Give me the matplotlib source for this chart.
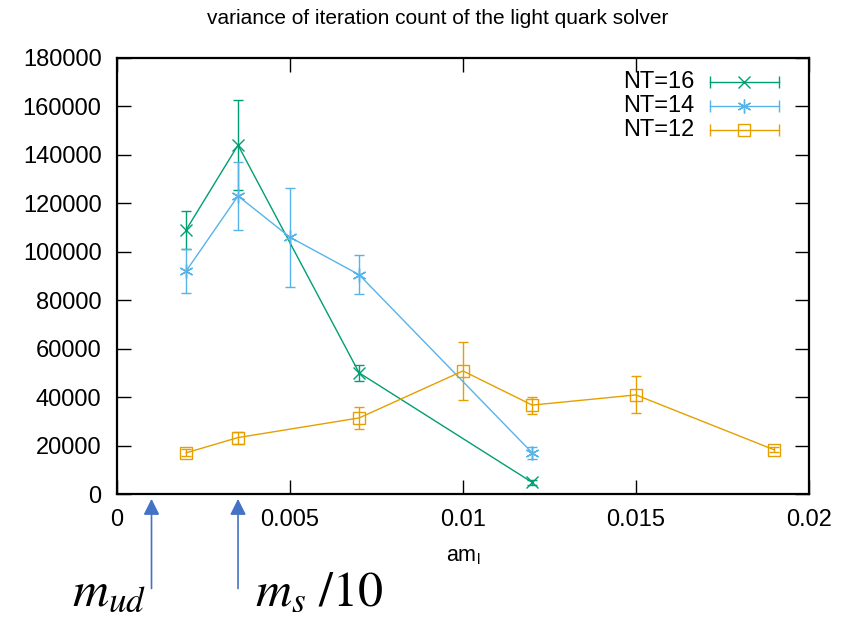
import matplotlib
matplotlib.use("Agg")
from matplotlib import pyplot as plt

plt.rcParams['font.family'] = ['Liberation Sans', 'DejaVu Sans']
plt.rcParams['mathtext.fontset'] = 'stix'

# data
x16 = [0.002, 0.0035, 0.007, 0.012]
y16 = [109000, 144000, 50000, 4800]
e16 = [8000, 18500, 3300, 1000]

x14 = [0.002, 0.0035, 0.005, 0.007, 0.012]
y14 = [92000, 123000, 106000, 90500, 17000]
e14 = [9000, 14000, 20500, 8000, 2500]

x12 = [0.002, 0.0035, 0.007, 0.01, 0.012, 0.015, 0.019]
y12 = [17000, 23300, 31400, 50800, 36700, 40900, 18200]
e12 = [1500, 2500, 4600, 12000, 3500, 7600, 1000]

series = [
    ("NT=16", x16, y16, e16, '#009e73', 'x', 9),
    ("NT=14", x14, y14, e14, '#56b4e9', (6, 2, 0), 10),
    ("NT=12", x12, y12, e12, '#e69f00', 's', 8),
]

arrow_x = [0.001, 0.0035]
arrow_txt = [r"$m_{ud}$", r"$m_s\ /10$"]

fig = plt.figure(figsize=(8.41, 6.29), dpi=100)
ax = fig.add_axes([0.139, 0.2146, 0.823, 0.6934])

for name, xs, ys, es, col, mk, ms in series:
    fc = 'none' if mk == 's' else col
    ax.errorbar(xs, ys, yerr=es, color=col, lw=1, elinewidth=1, capsize=3.5,
                capthick=1, marker=mk, ms=ms, mfc=fc, mec=col, mew=1)

ax.set_xlim(0, 0.02)
ax.set_ylim(0, 180000)
ax.set_xticks([0, 0.005, 0.01, 0.015, 0.02])
ax.set_xticklabels(['0', '0.005', '0.01', '0.015', '0.02'])
ax.set_yticks(range(0, 180001, 20000))
ax.tick_params(direction='in', length=10, width=1, top=True, right=True,
               labelsize=17)
ax.tick_params(axis='y', pad=11)
ax.tick_params(axis='x', pad=11)
for s in ax.spines.values():
    s.set_linewidth(1.6)

fig.text(0.52, 0.97, "variance of iteration count of the light quark solver",
         fontsize=15, ha='center', va='center')
ax.set_xlabel(r"am$_\mathregular{l}$", fontsize=15.5, labelpad=10)

# legend drawn gnuplot style: text on the left, sample on the right
for i, (name, xs, ys, es, col, mk, ms) in enumerate(series):
    yy = 0.945 - i * 0.055
    ax.text(0.835, yy, name, transform=ax.transAxes, ha='right', va='center',
            fontsize=17)
    ax.plot([0.857, 0.956], [yy, yy], transform=ax.transAxes, color=col, lw=1)
    ax.plot([0.857, 0.956], [yy, yy], transform=ax.transAxes, color=col, lw=0,
            marker='|', ms=8, mew=1)
    fc = 'none' if mk == 's' else col
    ax.plot([0.906], [yy], transform=ax.transAxes, color=col, lw=0, marker=mk,
            ms=ms, mfc=fc, mec=col, mew=1)

# arrows below the axis
for xa, txt, ha, dx in zip(arrow_x, arrow_txt, ['right', 'left'], [-0.00015, 0.0005]):
    ax.annotate('', xy=(xa, -2000), xytext=(xa, -39000),
                xycoords='data', textcoords='data', annotation_clip=False,
                arrowprops=dict(arrowstyle='-|>', color='#4472c4', lw=1.2,
                                mutation_scale=24, shrinkA=0, shrinkB=0))
    ax.text(xa + dx, -46000, txt, ha=ha, va='baseline', fontsize=36,
            clip_on=False)

fig.savefig('out.png', dpi=100)
